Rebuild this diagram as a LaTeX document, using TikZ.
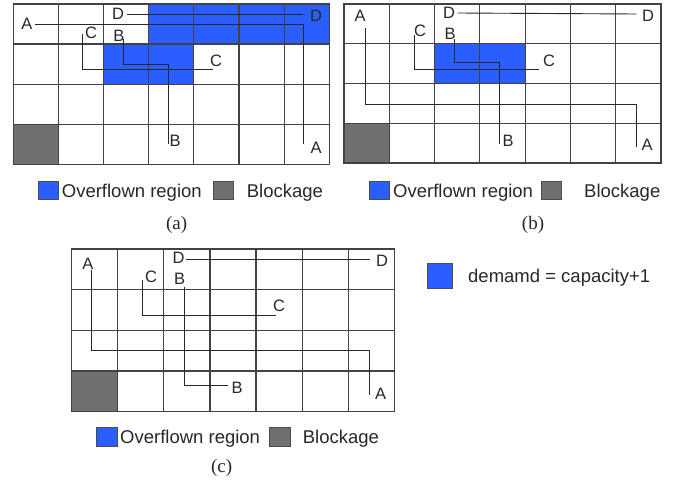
\documentclass[tikz,border=0pt]{standalone}
\usepackage{fontspec}
\setmainfont{Liberation Sans}
\newfontfamily\capfont{Liberation Serif}
\definecolor{ovblue}{RGB}{42,94,255}
\definecolor{blockgray}{RGB}{112,112,112}
\definecolor{inkgray}{RGB}{40,40,40}
\begin{document}
\begin{tikzpicture}[x=1pt,y=-1pt,
  gridline/.style={draw=black!74, line width=1.2pt, line cap=rect},
  net/.style={draw=inkgray, line width=0.9pt},
  pin/.style={inner sep=2.5pt, font=\fontsize{16.5}{16.5}\selectfont, text=inkgray},
  legtext/.style={inner sep=0pt, anchor=base west, font=\fontsize{18.5}{18.5}\selectfont, text=inkgray},
  subcap/.style={inner sep=0pt, font=\capfont\fontsize{19}{19}\selectfont, text=inkgray},
  overflow/.style={fill=ovblue},
  blockage/.style={fill=blockgray},
  keybox/.style={draw=black!70, line width=0.8pt, inner sep=0pt, minimum width=20pt, minimum height=18.5pt}
]
\useasboundingbox[fill=white] (0,0) rectangle (679,480);

% ---------------- panel (a) ----------------
\begin{scope}[shift={(13.3,4)}, x=45.14pt, y=-40.08pt]
  \fill[overflow] (3,0) rectangle (7,1);
  \fill[overflow] (2,1) rectangle (4,2);
  \fill[blockage] (0,3) rectangle (1,4);
  \foreach \i in {0,...,7} \draw[gridline] (\i,0) -- (\i,4);
  \foreach \j in {0,...,4} \draw[gridline] (0,\j) -- (7,\j);
\end{scope}

\node[pin] (aA1) at (27,24) {A};
\node[pin] (aA2) at (316,147.5) {A};
\node[pin] (aD1) at (118,14) {D};
\node[pin] (aD2) at (316,16) {D};
\node[pin] (aC1) at (91,33) {C};
\node[pin] (aC2) at (216,61) {C};
\node[pin] (aB1) at (119,36) {B};
\node[pin] (aB2) at (175,141) {B};

\coordinate (aAe) at (303.3,144);
\coordinate (aDe) at (303,14);
\coordinate (aCs) at (82.7,34.3);
\coordinate (aCe) at (213.3,69.3);
\coordinate (aBs) at (123.3,39.3);
\coordinate (aBm) at (168.3,64.3);
\coordinate (aBe) at (168.3,144);

\draw[net] (aD1.east) -- (aDe);
\draw[net] (aA1.east) -| (aAe);
\draw[net] (aCs) |- (aCe);
\draw[net] (aBs) |- (aBm) -- (aBe);

\node[keybox, overflow] (aKeyOv) at (48.3,190.5) {};
\node[legtext] (aKeyOvT) at (61.7,197.3) {Overflown region};
\node[keybox, blockage] (aKeyBl) at (223,190.5) {};
\node[legtext] (aKeyBlT) at (246.7,197.3) {Blockage};
\node[subcap] (aCap) at (176.7,225) {(a)};

% ---------------- panel (b) ----------------
\begin{scope}[shift={(344,4)}, x=45.29pt, y=-39.75pt]
  \fill[overflow] (2,1) rectangle (4,2);
  \fill[blockage] (0,3) rectangle (1,4);
  \foreach \i in {0,...,7} \draw[gridline] (\i,0) -- (\i,4);
  \foreach \j in {0,...,4} \draw[gridline] (0,\j) -- (7,\j);
\end{scope}

\node[pin] (bA1) at (360,16) {A};
\node[pin] (bA2) at (647,145) {A};
\node[pin] (bD1) at (449,13) {D};
\node[pin] (bD2) at (648,16) {D};
\node[pin] (bC1) at (420,30.5) {C};
\node[pin] (bC2) at (549,61) {C};
\node[pin] (bB1) at (450,34) {B};
\node[pin] (bB2) at (508,141) {B};

\coordinate (bAs) at (365,28.3);
\coordinate (bAm) at (636,104);
\coordinate (bAe) at (636,146.7);
\coordinate (bDe) at (636.7,14);
\coordinate (bCs) at (414.3,35);
\coordinate (bCe) at (539,69);
\coordinate (bBs) at (454.3,39.3);
\coordinate (bBm) at (499.3,62.7);
\coordinate (bBe) at (499.3,144);

\draw[net] (bAs) |- (bAm) -- (bAe);
\draw[net] (bD1.east) -- (bDe);
\draw[net] (bCs) |- (bCe);
\draw[net] (bBs) |- (bBm) -- (bBe);

\node[keybox, overflow] (bKeyOv) at (379,190.5) {};
\node[legtext] (bKeyOvT) at (393,197.3) {Overflown region};
\node[keybox, blockage] (bKeyBl) at (551.7,190.5) {};
\node[legtext] (bKeyBlT) at (584,197.3) {Blockage};
\node[subcap] (bCap) at (533,225) {(b)};

% ---------------- panel (c) ----------------
\begin{scope}[shift={(71.7,249)}, x=46.09pt, y=-40.675pt]
  \fill[blockage] (0,3) rectangle (1,4);
  \foreach \i in {0,...,7} \draw[gridline] (\i,0) -- (\i,4);
  \foreach \j in {0,...,4} \draw[gridline] (0,\j) -- (7,\j);
\end{scope}

\node[pin] (cA1) at (88,264) {A};
\node[pin] (cA2) at (380.5,394) {A};
\node[pin] (cD1) at (178.7,257.8) {D};
\node[pin] (cD2) at (382,261) {D};
\node[pin] (cC1) at (151,276.7) {C};
\node[pin] (cC2) at (279,306) {C};
\node[pin] (cB1) at (179.7,279) {B};
\node[pin] (cB2) at (237,387.5) {B};

\coordinate (cAs) at (91.7,270);
\coordinate (cAm) at (369.3,350);
\coordinate (cAe) at (369.3,395);
\coordinate (cDs) at (186,259);
\coordinate (cDe) at (370,259);
\coordinate (cCs) at (142.7,280);
\coordinate (cCe) at (276,315);
\coordinate (cBs) at (184,286.7);
\coordinate (cBe) at (228.3,385.7);

\draw[net] (cAs) |- (cAm) -- (cAe);
\draw[net] (cDs) -- (cDe);
\draw[net] (cCs) |- (cCe);
\draw[net] (cBs) |- (cBe);

\node[keybox, overflow, minimum width=20.6pt] (cKeyOv) at (107,436.7) {};
\node[legtext] (cKeyOvT) at (120,443.5) {Overflown region};
\node[keybox, blockage, minimum width=21pt] (cKeyBl) at (279.5,436.7) {};
\node[legtext] (cKeyBlT) at (302.7,443.5) {Blockage};
\node[subcap] (cCap) at (221.7,468) {(c)};

% ---------------- demand key ----------------
\node[keybox, overflow, minimum width=25.4pt, minimum height=25pt] (dKey) at (440,275.8) {};
\node[legtext] (dKeyT) at (468,282.5) {demamd = capacity+1};

\end{tikzpicture}
\end{document}
